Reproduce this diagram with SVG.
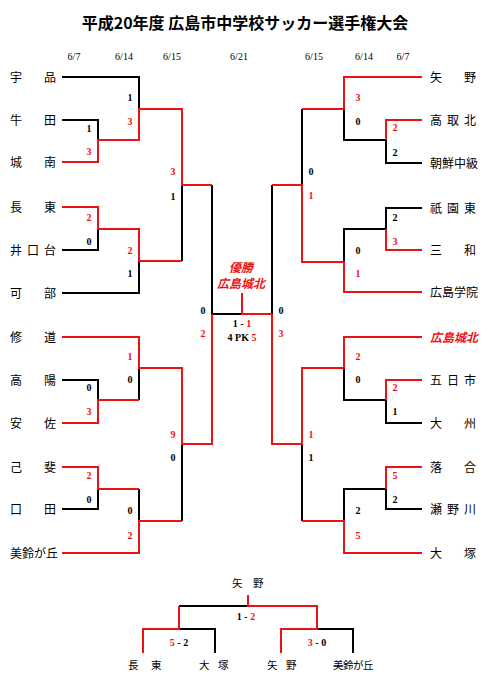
<svg xmlns="http://www.w3.org/2000/svg" width="491" height="678" viewBox="0 0 491 678">
<style>
.k{fill:none;stroke:#000;stroke-width:2}
.r{fill:none;stroke:#ee1111;stroke-width:2}
.t{font-family:"Noto Sans CJK JP","Noto Sans",sans-serif;font-size:12px;fill:#000}
.w{font-family:"Noto Sans CJK JP","Noto Sans",sans-serif;font-size:12px;fill:#ee1111;font-weight:bold;font-style:italic}
.s{font-family:"Liberation Serif",serif;font-size:10px;font-weight:bold;text-anchor:middle;fill:#000}
.sr{fill:#ee1111}
.d{font-family:"Liberation Serif",serif;font-size:10px;text-anchor:middle;fill:#000}
.b{font-family:"Noto Sans CJK JP","Noto Sans",sans-serif;font-size:10.5px;fill:#000}
</style>
<rect width="491" height="678" fill="#fff"/>
<text x="245" y="29" text-anchor="middle" font-family="'Noto Sans CJK JP','Noto Sans',sans-serif" font-size="16" font-weight="bold">平成20年度 広島市中学校サッカー選手権大会</text>
<g id="dates">
<text class="d" x="74" y="60">6/7</text>
<text class="d" x="124" y="60">6/14</text>
<text class="d" x="172" y="60">6/15</text>
<text class="d" x="239" y="60">6/21</text>
<text class="d" x="314" y="60">6/15</text>
<text class="d" x="364" y="60">6/14</text>
<text class="d" x="403" y="60">6/7</text>
</g>
<g id="connectors">
<path class="k" d="M62,77 H139 V109 M62,120 H98 V140 M62,250 H98 V229 M62,293 H139 V261 M182,185 V261 M212,185 V314 H242 M62,380 H98 V400 M139,368 V400 M62,509 H98 V489 M139,489 V521 M182,444 V521"/>
<path class="k" d="M302,109 V185 M422,163 H386 V140 H344 V109 M272,185 V314 M422,208 H386 V229 H344 V262 M422,423 H386 V400 H344 V368 M422,509 H386 V489 H344 V521 M302,444 V521"/>
<path class="r" d="M62,162 H98 V140 H139 V109 H182 V185 H212 M62,207 H98 V229 H139 V261 H182 M242,293 V314 H272 M212,314 V444 H182 V368 H139 V337 H62 M62,423 H98 V400 H139 M62,467 H98 V489 H139 M62,553 H139 V521 H182"/>
<path class="r" d="M422,77 H344 V109 H302 M422,120 H386 V140 M422,292 H344 V262 H302 V185 H272 M422,250 H386 V229 M422,337 H344 V368 H302 V444 H272 V314 M422,380 H386 V400 M422,467 H386 V489 M422,553 H344 V521 H302"/>
<path class="k" d="M248,606 H179 M179,629 H215 V653 M317,629 H353 V653"/>
<path class="r" d="M248,595 V606 H317 V629 H281 V653 M179,606 V629 H143 V653"/>
</g>
<g id="teams-left">
<text id="ujina" class="t" x="10 44" y="81.5">宇品</text>
<text id="ushita" class="t" x="10 44" y="125">牛田</text>
<text id="jonan" class="t" x="10 44" y="167">城南</text>
<text id="nagatsuka" class="t" x="10 44" y="212">長東</text>
<text id="iguchidai" class="t" x="10 27 44" y="255">井口台</text>
<text id="kabe" class="t" x="10 44" y="298">可部</text>
<text id="shudo" class="t" x="10 44" y="341.5">修道</text>
<text id="koyo" class="t" x="10 44" y="385">高陽</text>
<text id="asa" class="t" x="10 44" y="428">安佐</text>
<text id="koi" class="t" x="10 44" y="471.5">己斐</text>
<text id="kuchita" class="t" x="10 44" y="514">口田</text>
<text id="misuzugaoka" class="t" x="10 22 34 46" y="557.5">美鈴が丘</text>
</g>
<g id="teams-right">
<text id="yano" class="t" x="430 464" y="81.5">矢野</text>
<text id="takatorikita" class="t" x="430 447 464" y="125">高取北</text>
<text id="chosen" class="t" x="430 442 454 466" y="167.5">朝鮮中級</text>
<text id="gionhigashi" class="t" x="430 447 464" y="212.5">祇園東</text>
<text id="miwa" class="t" x="430 464" y="255">三和</text>
<text id="hiroshimagakuin" class="t" x="430 442 454 466" y="297">広島学院</text>
<text id="johoku" class="w" x="430 442 454 466" y="341.5">広島城北</text>
<text id="itsukaichi" class="t" x="430 447 464" y="385">五日市</text>
<text id="oshu" class="t" x="430 464" y="428">大州</text>
<text id="ochiai" class="t" x="430 464" y="471.5">落合</text>
<text id="senogawa" class="t" x="430 447 464" y="514">瀬野川</text>
<text id="otsuka" class="t" x="430 464" y="557.5">大塚</text>
</g>
<g id="champion">
<text class="w" x="241" y="272" text-anchor="middle">優勝</text>
<text class="w" x="241" y="287.5" text-anchor="middle">広島城北</text>
<text class="s" x="242" y="326.5">1 - <tspan class="sr">1</tspan></text>
<text class="s" x="242" y="340.5">4 PK <tspan class="sr">5</tspan></text>
</g>
<g id="scores-left">
<text class="s" x="89" y="131.5">1</text><text class="s sr" x="89" y="154.5">3</text>
<text class="s" x="130" y="101">1</text><text class="s sr" x="130" y="124.5">3</text>
<text class="s sr" x="173" y="175">3</text><text class="s" x="173" y="199.5">1</text>
<text class="s sr" x="89" y="221">2</text><text class="s" x="89" y="245">0</text>
<text class="s sr" x="130" y="253.5">2</text><text class="s" x="130" y="276.5">1</text>
<text class="s" x="203" y="313.5">0</text><text class="s sr" x="203" y="336.5">2</text>
<text class="s sr" x="130" y="359.5">1</text><text class="s" x="130" y="383">0</text>
<text class="s" x="89" y="391">0</text><text class="s sr" x="89" y="414.5">3</text>
<text class="s sr" x="173" y="437.5">9</text><text class="s" x="173" y="461">0</text>
<text class="s sr" x="89" y="479">2</text><text class="s" x="89" y="503">0</text>
<text class="s" x="130" y="514">0</text><text class="s sr" x="130" y="538.5">2</text>
</g>
<g id="scores-right">
<text class="s sr" x="358" y="101">3</text><text class="s" x="358" y="125">0</text>
<text class="s sr" x="395" y="131">2</text><text class="s" x="395" y="156">2</text>
<text class="s" x="311" y="174.5">0</text><text class="s sr" x="311" y="199">1</text>
<text class="s" x="395" y="221">2</text><text class="s sr" x="395" y="245">3</text>
<text class="s" x="358" y="253.5">0</text><text class="s sr" x="358" y="277">1</text>
<text class="s" x="281" y="313.5">0</text><text class="s sr" x="281" y="336.5">3</text>
<text class="s sr" x="358" y="359.5">2</text><text class="s" x="358" y="383">0</text>
<text class="s sr" x="395" y="391">2</text><text class="s" x="395" y="415">1</text>
<text class="s sr" x="311" y="437.5">1</text><text class="s" x="311" y="461">1</text>
<text class="s sr" x="395" y="479">5</text><text class="s" x="395" y="503">2</text>
<text class="s" x="358" y="513.5">2</text><text class="s sr" x="358" y="538.5">5</text>
</g>
<g id="third-place">
<text class="b" x="232 253" y="586.5">矢野</text>
<text class="s" x="246" y="619.5">1 - <tspan class="sr">2</tspan></text>
<text class="s" x="179" y="646"><tspan class="sr">5</tspan> - 2</text>
<text class="s" x="317" y="646"><tspan class="sr">3</tspan> - 0</text>
<text class="b" x="128 151" y="668.5">長東</text>
<text class="b" x="199 218" y="668.5">大塚</text>
<text class="b" x="267 286" y="668.5">矢野</text>
<text class="b" x="333 343 353 363" y="668.5">美鈴が丘</text>
</g>
</svg>
